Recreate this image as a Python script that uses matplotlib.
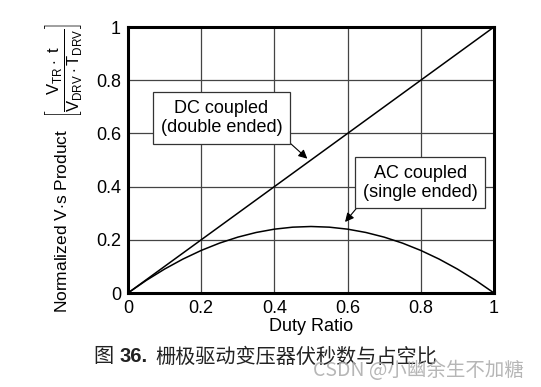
import matplotlib
matplotlib.use('Agg')
import matplotlib.pyplot as plt

plt.rcParams['font.family'] = ['Liberation Sans', 'Noto Sans CJK SC', 'DejaVu Sans']
plt.rcParams['mathtext.fontset'] = 'custom'
plt.rcParams['mathtext.rm'] = 'Liberation Sans'
plt.rcParams['mathtext.it'] = 'Liberation Sans'

# duty ratio and the two normalized volt-second curves
duty = [0, 0.05, 0.1, 0.15, 0.2, 0.25, 0.3, 0.35, 0.4, 0.45, 0.5,
        0.55, 0.6, 0.65, 0.7, 0.75, 0.8, 0.85, 0.9, 0.95, 1.0]
dc_coupled = [0, 0.05, 0.1, 0.15, 0.2, 0.25, 0.3, 0.35, 0.4, 0.45, 0.5,
              0.55, 0.6, 0.65, 0.7, 0.75, 0.8, 0.85, 0.9, 0.95, 1.0]
ac_coupled = [0, 0.0475, 0.09, 0.1275, 0.16, 0.1875, 0.21, 0.2275, 0.24, 0.2475, 0.25,
              0.2475, 0.24, 0.2275, 0.21, 0.1875, 0.16, 0.1275, 0.09, 0.0475, 0]
ticks = [0, 0.2, 0.4, 0.6, 0.8, 1]
tick_labels = ['0', '0.2', '0.4', '0.6', '0.8', '1']

fig = plt.figure(figsize=(5.41, 3.87), dpi=100)
ax = fig.add_axes([128 / 541, 1 - 293 / 387, 366 / 541, 266 / 387])

ax.plot(duty, dc_coupled, color='black', lw=1.1)
ax.plot(duty, ac_coupled, color='black', lw=1.1)

ax.set_xlim(0, 1)
ax.set_ylim(0, 1)
ax.set_xticks(ticks)
ax.set_yticks(ticks)
ax.set_xticklabels(tick_labels)
ax.set_yticklabels(tick_labels)
ax.tick_params(length=0, labelsize=13, pad=5)
ax.grid(True, color='#444444', lw=0.9)
for s in ax.spines.values():
    s.set_linewidth(2.2)
    s.set_color('black')

ax.set_xlabel('Duty Ratio', fontsize=13, labelpad=1)

# y label: plain text plus bracketed fraction
fig.text(62 / 541, 1 - 221 / 387, 'Normalized V$\\cdot$s Product', rotation=90,
         ha='center', va='center', fontsize=12.5)
fig.text(64 / 541, 1 - 70 / 387,
         r'$\left[\dfrac{V_{TR}\cdot\ t}{V_{DRV}\cdot T_{DRV}}\right]$',
         rotation=90, ha='center', va='center', fontsize=12)

box = dict(boxstyle='square,pad=0.42', fc='white', ec='#333333', lw=0.9)
ax.annotate('DC coupled\n(double ended)', xy=(0.49, 0.505), xytext=(0.255, 0.658),
            ha='center', va='center', fontsize=13, bbox=box, linespacing=1.15,
            arrowprops=dict(arrowstyle='-|>', color='black', lw=0.8,
                            mutation_scale=13, relpos=(1, 0), shrinkA=0, shrinkB=0))
ax.annotate('AC coupled\n(single ended)', xy=(0.593, 0.267), xytext=(0.798, 0.414),
            ha='center', va='center', fontsize=13, bbox=box, linespacing=1.15,
            arrowprops=dict(arrowstyle='-|>', color='black', lw=0.8,
                            mutation_scale=13, relpos=(0, 0), shrinkA=0, shrinkB=0))

fig.text(93 / 541, 1 - 357 / 387, '图', fontsize=14.5, va='center',
         family=['Noto Sans CJK SC'], color='#222222')
fig.text(120 / 541, 1 - 357 / 387, '36.', fontsize=14.5, va='center',
         fontweight='bold', color='#222222')
fig.text(155 / 541, 1 - 357 / 387, '栅极驱动变压器伏秒数与占空比', fontsize=14.5,
         va='center', family=['Noto Sans CJK SC'], color='#222222')
fig.text(313 / 541, 1 - 371 / 387, 'CSDN @小幽余生不加糖', fontsize=14,
         va='center', color='#aaaaaa', alpha=0.85,
         family=['Noto Sans CJK SC', 'DejaVu Sans'])

fig.savefig('out.png', dpi=100)
